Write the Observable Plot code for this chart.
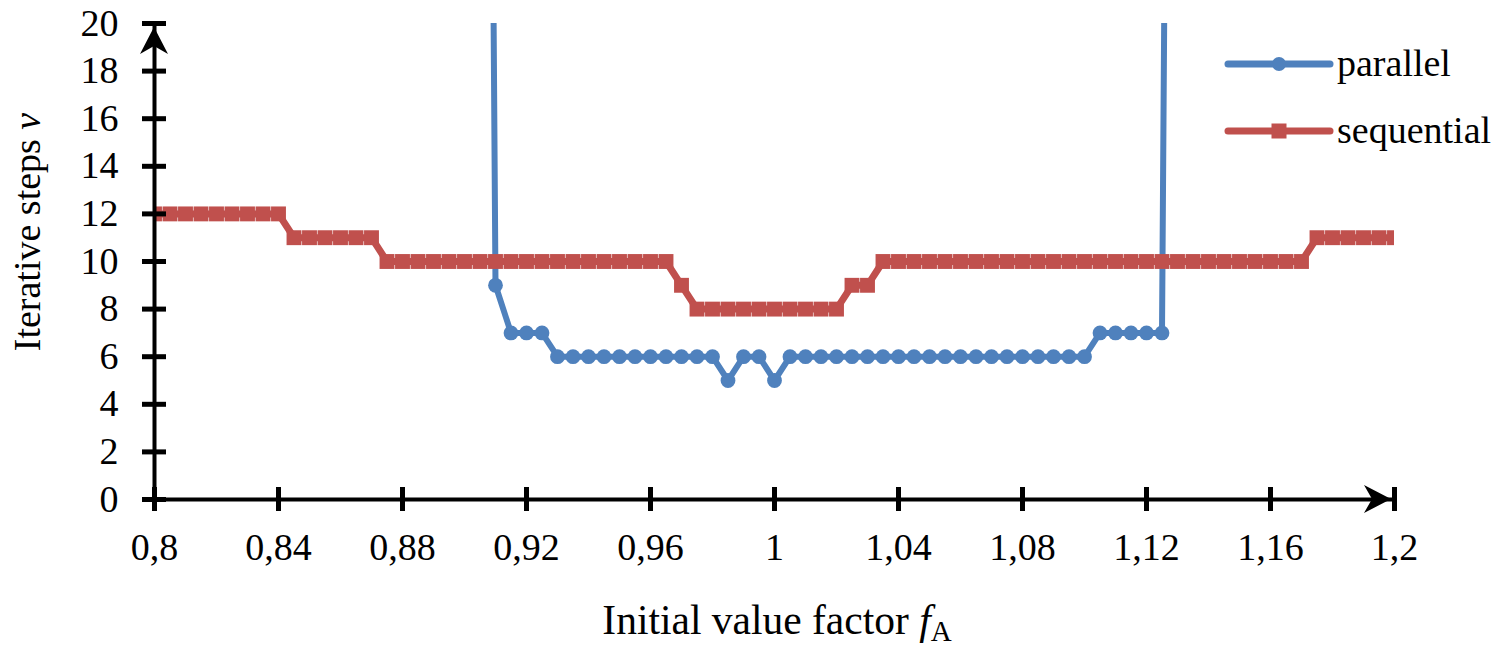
<!DOCTYPE html>
<html><head><meta charset="utf-8">
<script src="https://cdn.jsdelivr.net/npm/d3@7"></script>
<script src="https://cdn.jsdelivr.net/npm/@observablehq/plot@0.6"></script>
<style>html,body{margin:0;padding:0;background:#fff}</style>
</head><body><div id="chart"></div>
<script>
// Initial value factor f_A (x categories)
const factors = [
  0.8,0.805,0.81,0.815,0.82,0.825,0.83,0.835,0.84,0.845,
  0.85,0.855,0.86,0.865,0.87,0.875,0.88,0.885,0.89,0.895,
  0.9,0.905,0.91,0.915,0.92,0.925,0.93,0.935,0.94,0.945,
  0.95,0.955,0.96,0.965,0.97,0.975,0.98,0.985,0.99,0.995,
  1,1.005,1.01,1.015,1.02,1.025,1.03,1.035,1.04,1.045,
  1.05,1.055,1.06,1.065,1.07,1.075,1.08,1.085,1.09,1.095,
  1.1,1.105,1.11,1.115,1.12,1.125,1.13,1.135,1.14,1.145,
  1.15,1.155,1.16,1.165,1.17,1.175,1.18,1.185,1.19,1.195,
  1.2
];
// parallel iteration: 100 = no convergence (off chart)
const parallel = [
  100,100,100,100,100,100,100,100,100,100,
  100,100,100,100,100,100,100,100,100,100,
  100,100,9,7,7,7,6,6,6,6,
  6,6,6,6,6,6,6,5,6,6,
  5,6,6,6,6,6,6,6,6,6,
  6,6,6,6,6,6,6,6,6,6,
  6,7,7,7,7,7,100,100,100,100,
  100,100,100,100,100,100,100,100,100,100,
  100
];
const sequential = [
  12,12,12,12,12,12,12,12,12,11,
  11,11,11,11,11,10,10,10,10,10,
  10,10,10,10,10,10,10,10,10,10,
  10,10,10,10,9,8,8,8,8,8,
  8,8,8,8,8,9,9,10,10,10,
  10,10,10,10,10,10,10,10,10,10,
  10,10,10,10,10,10,10,10,10,10,
  10,10,10,10,10,11,11,11,11,11,
  11
];
const xTicks = [0.8,0.84,0.88,0.92,0.96,1,1.04,1.08,1.12,1.16,1.2];
const yTicks = [0,2,4,6,8,10,12,14,16,18,20];
const seriesNames = ["parallel","sequential"];
const seriesColors = ["#4F81BD","#C0504D"];
const xTitle = ["Initial value factor ", "f", "A"];
const yTitle = ["Iterative steps ", "ν"];

const data = factors.map((f,i)=>({f, parallel: parallel[i], sequential: sequential[i]}));
const fmt = d => String(d).replace(".", ",");
const FONT = "Liberation Serif, Times New Roman, serif";
const [blue, red] = seriesColors;

const chart = Plot.plot({
  width:1508, height:650,
  marginLeft:154, marginRight:114, marginTop:23, marginBottom:151,
  style:{fontFamily:FONT, fontSize:"38px", color:"#000", background:"#fff"},
  x:{domain:[0.8,1.2]},
  y:{domain:[0,20]},
  marks:[
    Plot.line(data,{x:"f",y:"parallel",stroke:blue,strokeWidth:6,clip:true,strokeLinejoin:"round"}),
    Plot.dot(data,{x:"f",y:"parallel",fill:blue,r:7.4,clip:true}),
    Plot.line(data,{x:"f",y:"sequential",stroke:red,strokeWidth:7,clip:true,strokeLinejoin:"round"}),
    Plot.dot(data,{x:"f",y:"sequential",symbol:"square",fill:red,r:8.4,clip:true}),
    Plot.ruleY([0],{strokeWidth:4}),
    Plot.ruleX([0.8],{strokeWidth:4}),
    Plot.axisX({ticks:xTicks, tickSize:24, dy:-12, fill:"none", strokeWidth:5, label:null}),
    Plot.axisX({ticks:xTicks, tickSize:0, tickPadding:34, tickFormat:fmt, fontSize:38, fontFamily:FONT, label:null}),
    Plot.axisY({ticks:yTicks, tickSize:24, dx:12, fill:"none", strokeWidth:5, label:null}),
    Plot.axisY({ticks:yTicks, tickSize:0, tickPadding:36, fontSize:38, fontFamily:FONT, label:null})
  ]
});
document.getElementById("chart").appendChild(chart);

const svg = d3.select(chart);
const sx = chart.scale("x"), sy = chart.scale("y");
const x0 = sx.apply(0.8), x1 = sx.apply(1.2), y0 = sy.apply(0), y1 = sy.apply(20);
const L = 27, W = 14, N = 19;
// right arrowhead on x axis
const tx = x1 - 3;
svg.append("path").attr("d",`M${tx},${y0}L${tx-L},${y0-W}L${tx-N},${y0}L${tx-L},${y0+W}Z`).attr("fill","#000");
// up arrowhead on y axis
const ty = y1 + 4;
svg.append("path").attr("d",`M${x0},${ty}L${x0-W},${ty+L}L${x0},${ty+N}L${x0+W},${ty+L}Z`).attr("fill","#000");

// axis titles
const xt = svg.append("text").attr("x",(x0+x1)/2+3).attr("y",634).attr("text-anchor","middle")
  .attr("font-family",FONT).attr("font-size",41.5).attr("fill","#000");
xt.append("tspan").text(xTitle[0]);
xt.append("tspan").attr("font-style","italic").text(xTitle[1]);
xt.append("tspan").attr("font-size",29).attr("dy",7).text(xTitle[2]);

const yt = svg.append("text").attr("transform",`translate(40,232) rotate(-90)`).attr("text-anchor","middle")
  .attr("font-family",FONT).attr("font-size",38).attr("fill","#000");
yt.append("tspan").text(yTitle[0]);
yt.append("tspan").attr("font-style","italic").text(yTitle[1]);

// legend
const lg = svg.append("g").attr("text-anchor","start");
seriesNames.forEach((name,i)=>{
  const cy = 64 + i*67, lx = 1228, rx = 1330, mx = 1279;
  lg.append("line").attr("x1",lx).attr("x2",rx).attr("y1",cy).attr("y2",cy)
    .attr("stroke",seriesColors[i]).attr("stroke-width",7).attr("stroke-linecap","round");
  if (i===0) lg.append("circle").attr("cx",mx).attr("cy",cy).attr("r",7).attr("fill",seriesColors[i]);
  else lg.append("rect").attr("x",mx-7.5).attr("y",cy-7.5).attr("width",15).attr("height",15).attr("fill",seriesColors[i]);
  lg.append("text").attr("x",1337).attr("y",cy+12).attr("text-anchor","start").attr("font-family",FONT).attr("font-size",38)
    .attr("fill","#000").text(name);
});
</script>
</body></html>
